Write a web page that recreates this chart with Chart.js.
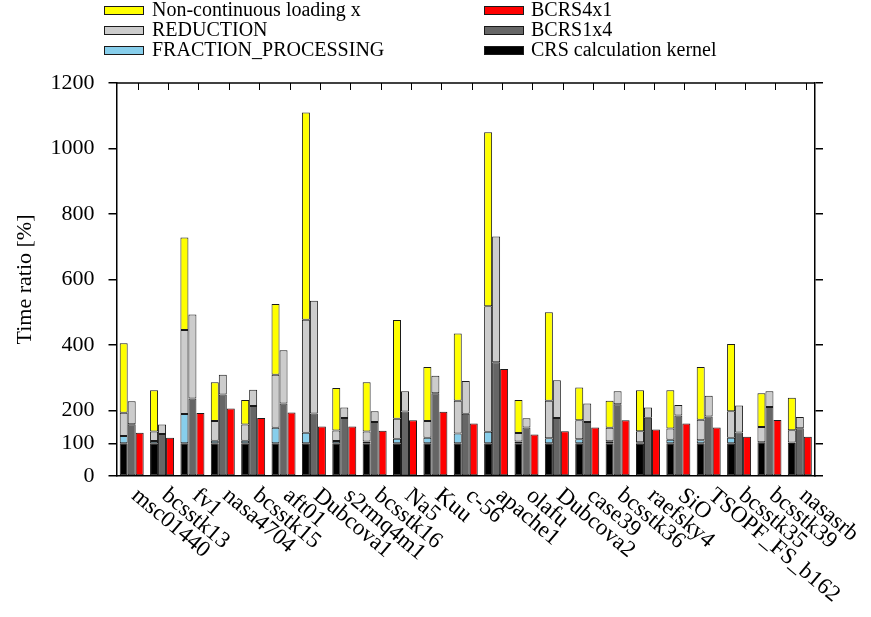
<!DOCTYPE html>
<html>
<head>
<meta charset="utf-8">
<script src="https://cdn.jsdelivr.net/npm/chart.js@4.4.1/dist/chart.umd.min.js"></script>
<style>
  html, body { margin: 0; padding: 0; background: #fff; }
</style>
</head>
<body>
<canvas id="ratioChart" width="871" height="617"></canvas>
<script>
// Matrices on the x axis
const matrices = ["msc01440", "bcsstk13", "fv1", "nasa4704", "bcsstk15", "aft01", "Dubcova1",
  "s2rmq4m1", "bcsstk16", "Na5", "Kuu", "c-56", "apache1", "olafu", "Dubcova2", "case39",
  "bcsstk36", "raefsky4", "SiO", "TSOPF_FS_b162", "bcsstk35", "bcsstk39", "nasasrb"];

// CRS stack (segments, %)
const crsKernel = [100, 100, 100, 100, 100, 100, 100, 100, 100, 100, 100, 100, 100, 100, 100, 100, 100, 100, 100, 100, 100, 103, 101];
const fractionProcessing = [22, 7, 89, 8, 8, 47, 32, 7, 5, 14, 17, 30, 35, 5, 15, 12, 6, 3, 11, 9, 17, 0, 1];
const reductionCrs = [71, 29, 257, 60, 49, 162, 345, 32, 31, 61, 51, 100, 383, 26, 115, 58, 41, 34, 34, 63, 81, 47, 38];
const nonContinuous = [212, 126, 282, 118, 75, 216, 633, 130, 150, 301, 165, 205, 532, 101, 270, 100, 83, 125, 117, 161, 205, 103, 99];

// BCRS1x4 stack (segments, %)
const bcrs1x4 = [158, 128, 237, 249, 214, 221, 191, 177, 165, 197, 253, 190, 347, 148, 177, 165, 219, 178, 185, 182, 133, 211, 146];
const reduction1x4 = [70, 29, 256, 60, 49, 163, 344, 32, 33, 62, 53, 100, 384, 28, 115, 56, 40, 31, 32, 63, 82, 48, 34];

// BCRS4x1 (%)
const bcrs4x1 = [132, 117, 192, 206, 177, 194, 151, 151, 138, 170, 196, 160, 327, 127, 137, 148, 170, 142, 160, 148, 120, 171, 120];

const yTicks = [0, 100, 200, 400, 600, 800, 1000, 1200];

const serif = "'Liberation Serif', 'Times New Roman', serif";
const edge = "#1a1a1a";

function bar(label, data, color, stack) {
  return {
    label: label,
    data: data,
    backgroundColor: color,
    borderColor: edge,
    borderWidth: 1,
    borderSkipped: false,
    stack: stack,
    categoryPercentage: 0.79,
    barPercentage: 1.0
  };
}

// legend in two columns, like the original
const legendCols = [
  ["Non-continuous loading x", "REDUCTION", "FRACTION_PROCESSING"],
  ["BCRS4x1", "BCRS1x4", "CRS calculation kernel"]
];

const decorations = {
  id: "decorations",
  afterDraw(chart) {
    const ctx = chart.ctx;
    const area = chart.chartArea;
    const x = chart.scales.x;

    ctx.save();
    // top frame line and inward ticks
    ctx.strokeStyle = "#000";
    ctx.lineWidth = 1.5;
    ctx.beginPath();
    ctx.moveTo(area.left, area.top);
    ctx.lineTo(area.right, area.top);
    ctx.stroke();
    ctx.lineWidth = 1;
    matrices.forEach((m, i) => {
      const px = Math.round(x.getPixelForValue(i) + 6) + 0.5;
      ctx.beginPath();
      ctx.moveTo(px, area.top);
      ctx.lineTo(px, area.top + 7);
      ctx.stroke();
    });

    // rotated category labels
    ctx.fillStyle = "#000";
    ctx.font = "23px " + serif;
    ctx.textAlign = "left";
    ctx.textBaseline = "top";
    matrices.forEach((m, i) => {
      ctx.save();
      ctx.translate(x.getPixelForValue(i) + 10, area.bottom + 8);
      ctx.rotate(40 * Math.PI / 180);
      ctx.fillText(m, 0, 0);
      ctx.restore();
    });

    // legend
    const byLabel = {};
    chart.data.datasets.forEach(d => { if (!byLabel[d.label]) byLabel[d.label] = d; });
    const boxX = [104, 484];
    const textX = [152, 531];
    const rowY = [10, 30, 50];
    ctx.font = "20px " + serif;
    ctx.textBaseline = "middle";
    legendCols.forEach((col, c) => {
      col.forEach((lab, r) => {
        const d = byLabel[lab];
        ctx.fillStyle = d.backgroundColor;
        ctx.fillRect(boxX[c], rowY[r] - 4, 40, 9);
        ctx.strokeStyle = edge;
        ctx.lineWidth = 1;
        ctx.strokeRect(boxX[c] + 0.5, rowY[r] - 3.5, 39, 8);
        ctx.fillStyle = "#000";
        ctx.fillText(lab, textX[c], rowY[r] + 1);
      });
    });
    ctx.restore();
  }
};

const yAxisBase = {
  min: 0,
  max: 1200,
  afterBuildTicks(scale) { scale.ticks = yTicks.map(v => ({ value: v })); },
  grid: { drawOnChartArea: false, drawTicks: true, tickLength: 8, color: "#000", lineWidth: 1.5 },
  border: { display: true, color: "#000", width: 1.5 }
};

new Chart(document.getElementById("ratioChart"), {
  type: "bar",
  data: {
    labels: matrices,
    datasets: [
      bar("CRS calculation kernel", crsKernel, "#000000", "crs"),
      bar("BCRS1x4", bcrs1x4, "#666666", "b14"),
      bar("BCRS4x1", bcrs4x1, "#ff0000", "b41"),
      bar("FRACTION_PROCESSING", fractionProcessing, "#87ceeb", "crs"),
      bar("REDUCTION", reductionCrs, "#cccccc", "crs"),
      bar("REDUCTION (BCRS1x4)", reduction1x4, "#cccccc", "b14"),
      bar("Non-continuous loading x", nonContinuous, "#ffff00", "crs")
    ]
  },
  options: {
    responsive: false,
    animation: false,
    layout: { padding: { top: 83, left: 0, right: 0, bottom: 0 } },
    plugins: {
      legend: { display: false },
      tooltip: { enabled: false }
    },
    scales: {
      x: {
        stacked: true,
        offset: true,
        afterFit(scale) { scale.height = 617 - 83 - 393; },
        ticks: { display: false },
        grid: { display: false },
        border: { display: true, color: "#000", width: 1.5 }
      },
      y: Object.assign({}, yAxisBase, {
        stacked: true,
        position: "left",
        afterFit(scale) { scale.width = 116.5; },
        ticks: {
          color: "#000",
          padding: 14,
          font: { family: serif, size: 22 },
          callback: v => String(v)
        },
        title: {
          display: true,
          text: "Time ratio [%]",
          color: "#000",
          font: { family: serif, size: 22 },
          padding: { top: 12, bottom: 0 }
        }
      }),
      y2: Object.assign({}, yAxisBase, {
        position: "right",
        afterFit(scale) { scale.width = 871 - 815; },
        ticks: { display: false }
      })
    }
  },
  plugins: [decorations]
});
</script>
</body>
</html>
